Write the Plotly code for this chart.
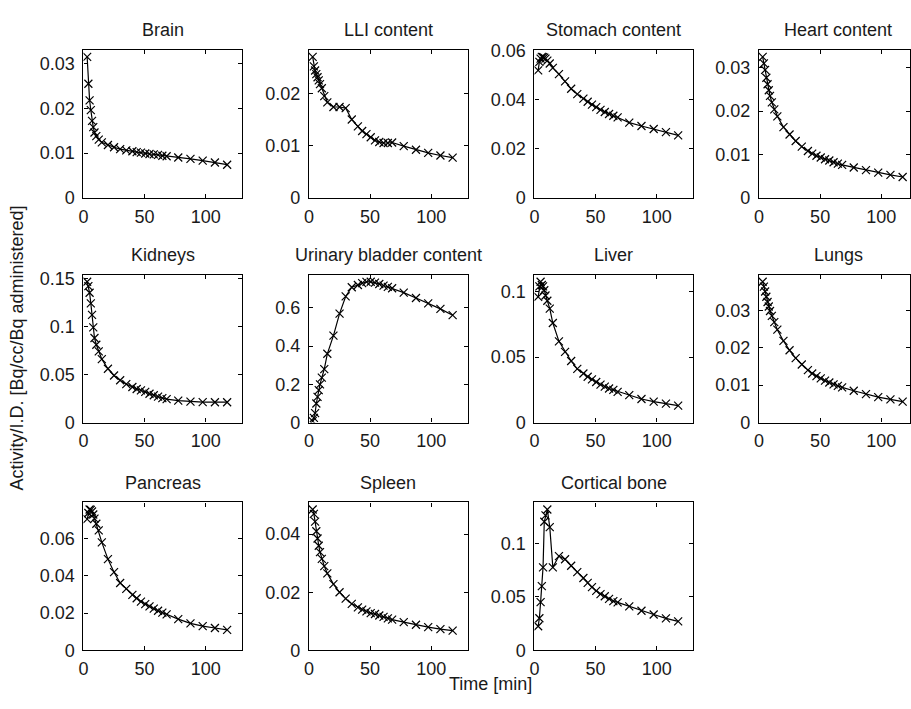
import plotly.graph_objects as go

# ---------------- data ----------------
time_min = [3, 4, 5, 6, 7, 8, 9, 10.5, 12.5, 15, 20, 25, 30, 35, 40, 43.5, 47, 50.5,
            54, 57.5, 61, 64.5, 68, 77.5, 87.5, 97.5, 107.5, 117.5]

titles = ["Brain", "LLI content", "Stomach content", "Heart content",
          "Kidneys", "Urinary bladder content", "Liver", "Lungs",
          "Pancreas", "Spleen", "Cortical bone"]

brain = [0.0315, 0.0255, 0.0218, 0.0196, 0.0172, 0.0158, 0.0146, 0.0138, 0.0130, 0.0124,
         0.0118, 0.0113, 0.0109, 0.0106, 0.0104, 0.0102, 0.0101, 0.0099, 0.0098, 0.0097,
         0.0096, 0.0094, 0.0093, 0.0090, 0.0087, 0.0083, 0.0079, 0.0074]
lli = [0.0270, 0.0252, 0.0244, 0.0237, 0.0231, 0.0225, 0.0218, 0.0210, 0.0195, 0.0183,
       0.0174, 0.0174, 0.0172, 0.0150, 0.0137, 0.0128, 0.0122, 0.0116, 0.0110, 0.0107,
       0.0105, 0.0105, 0.0106, 0.0099, 0.0092, 0.0086, 0.0081, 0.0077]
stomach = [0.0520, 0.0555, 0.0568, 0.0575, 0.0574, 0.0572, 0.0568, 0.0560, 0.0548, 0.0530,
           0.0505, 0.0475, 0.0445, 0.0423, 0.0405, 0.0392, 0.0380, 0.0370, 0.0359, 0.0350,
           0.0342, 0.0335, 0.0328, 0.0307, 0.0293, 0.0281, 0.0268, 0.0255]
heart = [0.0325, 0.0310, 0.0295, 0.0277, 0.0262, 0.0248, 0.0235, 0.0220, 0.0204, 0.0188,
         0.0163, 0.0146, 0.0131, 0.0118, 0.0108, 0.0102, 0.0097, 0.0093, 0.0089, 0.0086,
         0.0082, 0.0079, 0.0076, 0.0070, 0.0064, 0.0058, 0.0053, 0.0048]
kidneys = [0.1465, 0.1420, 0.1350, 0.1240, 0.1120, 0.0990, 0.0880, 0.0810, 0.0740, 0.0660,
           0.0560, 0.0490, 0.0440, 0.0400, 0.0370, 0.0350, 0.0335, 0.0320, 0.0300, 0.0285,
           0.0270, 0.0255, 0.0245, 0.0228, 0.0218, 0.0213, 0.0212, 0.0212]
bladder = [0.008, 0.025, 0.050, 0.100, 0.135, 0.170, 0.200, 0.235, 0.280, 0.360,
           0.455, 0.570, 0.660, 0.708, 0.720, 0.730, 0.736, 0.737, 0.732, 0.725,
           0.717, 0.710, 0.703, 0.680, 0.652, 0.624, 0.595, 0.562]
liver = [0.0960, 0.1040, 0.1075, 0.1050, 0.1040, 0.1010, 0.0970, 0.0930, 0.0870, 0.0760,
         0.0620, 0.0540, 0.0470, 0.0410, 0.0375, 0.0350, 0.0330, 0.0310, 0.0290, 0.0275,
         0.0260, 0.0250, 0.0235, 0.0210, 0.0180, 0.0160, 0.0145, 0.0130]
lungs = [0.0376, 0.0363, 0.0350, 0.0336, 0.0322, 0.0310, 0.0298, 0.0285, 0.0268, 0.0248,
         0.0218, 0.0193, 0.0172, 0.0155, 0.0140, 0.0131, 0.0124, 0.0118, 0.0112, 0.0107,
         0.0102, 0.0098, 0.0094, 0.0085, 0.0076, 0.0068, 0.0062, 0.0056]
pancreas = [0.0705, 0.0738, 0.0757, 0.0755, 0.0746, 0.0730, 0.0708, 0.0680, 0.0645, 0.0580,
            0.0490, 0.0420, 0.0362, 0.0330, 0.0298, 0.0280, 0.0262, 0.0248, 0.0236, 0.0224,
            0.0213, 0.0203, 0.0193, 0.0168, 0.0145, 0.0130, 0.0120, 0.0110]
spleen = [0.0485, 0.0470, 0.0443, 0.0410, 0.0385, 0.0360, 0.0338, 0.0315, 0.0290, 0.0265,
          0.0228, 0.0200, 0.0178, 0.0160, 0.0148, 0.0140, 0.0134, 0.0128, 0.0125, 0.0120,
          0.0115, 0.0110, 0.0106, 0.0097, 0.0088, 0.0080, 0.0073, 0.0068]
cortical_bone = [0.0225, 0.0300, 0.0450, 0.0600, 0.0775, 0.1200, 0.1260, 0.1315, 0.1150, 0.0775,
                 0.0880, 0.0850, 0.0790, 0.0730, 0.0675, 0.0630, 0.0590, 0.0555, 0.0525, 0.0505,
                 0.0480, 0.0460, 0.0448, 0.0410, 0.0370, 0.0335, 0.0298, 0.0270]

series = [brain, lli, stomach, heart, kidneys, bladder, liver, lungs, pancreas, spleen, cortical_bone]
y_dticks = [0.01, 0.01, 0.02, 0.01, 0.05, 0.2, 0.05, 0.01, 0.02, 0.02, 0.05]
x_ticks = [0, 50, 100]

# ---------------- layout geometry (pixels) ----------------
W, H = 911, 709
col_left = [79, 306, 533, 759]
col_width = 160
row_top = [42, 273, 507]
row_height = 152
x_max = 130.0
px_per_unit = col_width / x_max

FONT = "Liberation Sans, Arial, Helvetica, sans-serif"
TXT = "#1a1a1a"

fig = go.Figure()
annotations = []
for i, (title, vals, dt) in enumerate(zip(titles, series, y_dticks)):
    r, c = divmod(i, 4)
    n = i + 1
    xa = "x" if n == 1 else f"x{n}"
    ya = "y" if n == 1 else f"y{n}"
    left = col_left[c]
    right = min(left + col_width, W)
    top = row_top[r]
    bottom = top + row_height
    xr = (right - left) / px_per_unit

    fig.add_trace(go.Scatter(
        x=time_min, y=vals, mode="lines+markers", xaxis=xa, yaxis=ya,
        line=dict(color="black", width=1.2),
        marker=dict(symbol="x-thin", size=8, color="black", line=dict(width=1.2, color="black")),
        showlegend=False, hoverinfo="x+y"))

    axis_common = dict(showgrid=False, zeroline=False, showline=True, linecolor="black",
                       linewidth=1.3, mirror="allticks", ticks="inside", ticklen=4,
                       tickcolor="black", tickwidth=1,
                       tickfont=dict(family=FONT, size=18, color=TXT))
    fig.layout[("xaxis" if n == 1 else f"xaxis{n}")] = dict(
        axis_common, domain=[left / W, right / W], range=[0, xr], tickvals=x_ticks,
        anchor=ya, ticklabelstandoff=2)
    fig.layout[("yaxis" if n == 1 else f"yaxis{n}")] = dict(
        axis_common, domain=[1 - bottom / H, 1 - top / H], range=[0, 1.05 * max(vals)],
        tick0=0, dtick=dt, anchor=xa, ticklabelstandoff=4)

    annotations.append(dict(text=title, x=(left + (left + col_width)) / 2 / W,
                            y=1 - (top - 20) / H, xref="paper", yref="paper",
                            xanchor="center", yanchor="middle", showarrow=False,
                            font=dict(family=FONT, size=18, color=TXT)))

annotations.append(dict(text="Time [min]", x=489 / W, y=1 - 694 / H, xref="paper", yref="paper",
                        xanchor="center", yanchor="middle", showarrow=False,
                        font=dict(family=FONT, size=18, color=TXT)))
annotations.append(dict(text="Activity/I.D. [Bq/cc/Bq administered]", x=12 / W, y=1 - 348 / H,
                        xref="paper", yref="paper", xanchor="center", yanchor="middle",
                        textangle=-90, showarrow=False,
                        font=dict(family=FONT, size=18, color=TXT)))

fig.update_layout(width=W, height=H, margin=dict(l=0, r=0, t=0, b=0),
                  paper_bgcolor="white", plot_bgcolor="white", annotations=annotations)

fig.write_html("out.html", config={"displayModeBar": False},
               post_script="document.body.style.margin='0px';document.body.style.overflow='hidden';")
